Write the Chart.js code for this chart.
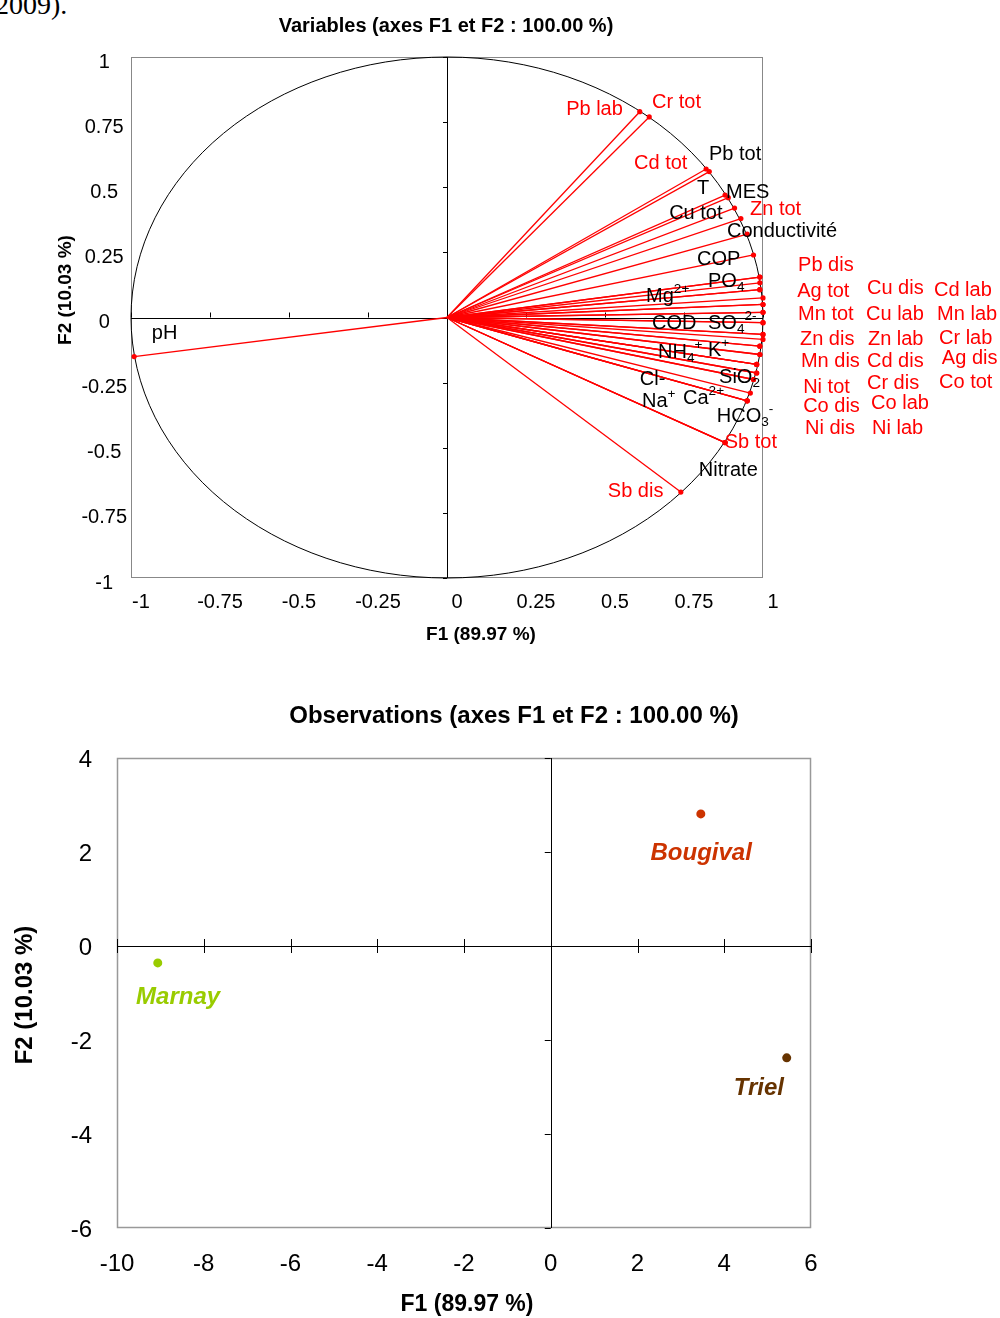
<!DOCTYPE html>
<html lang="fr">
<head>
  <meta charset="UTF-8">
  <title>ACP - Variables et Observations</title>
  <script src="https://cdn.jsdelivr.net/npm/chart.js"></script>
  <style>
    * { margin: 0; padding: 0; box-sizing: border-box; }
    body {
      width: 1000px;
      height: 1318px;
      background: #fff;
      position: relative;
      overflow: hidden;
    }
    .prev-text {
      position: absolute;
      left: -5px;
      top: -9px;
      font-family: 'Liberation Serif', 'Times New Roman', serif;
      font-size: 28px;
      line-height: 1;
      color: #000;
    }
    #varChart { position: absolute; left: 0; top: 0; }
    #obsChart { position: absolute; left: 0; top: 680px; }
  </style>
</head>
<body>
  <div class="prev-text">2009).</div>
  <canvas id="varChart" width="1000" height="660"></canvas>
  <canvas id="obsChart" width="1000" height="638"></canvas>

  <script>
    // --- variables: correlation circle (F1, F2) ---
    const varNames = ['pH', 'Pb lab', 'Cr tot', 'Cd tot', 'Pb tot', 'T', 'MES', 'Cu tot', 'Zn tot', 'Conductivité', 'COP',
      'PO_4', 'Pb dis', 'Mg^2+', 'Ag tot', 'Cu dis', 'Cd lab', 'Mn tot', 'Cu lab', 'Mn lab', 'COD', 'SO_4^2-', 'Zn dis',
      'Zn lab', 'Cr lab', 'Mn dis', 'Cd dis', 'Ag dis', 'NH_4^+', 'Ni tot', 'K^+', 'Cr dis', 'Co tot', 'Co dis', 'Co lab',
      'Ni dis', 'Ni lab', 'SiO_2', 'Cl-', 'Ca^2+', 'HCO_3^-', 'Na^+', 'Sb tot', 'Nitrate', 'Sb dis'];
    const varF1 = [-0.99, 0.61, 0.64, 0.82, 0.83, 0.88, 0.89, 0.91, 0.93, 0.95, 0.97,
      0.99, 0.99, 0.99, 0.99, 0.99, 1.00, 1.00, 1.00, 1.00, 1.00, 1.00, 1.00,
      1.00, 1.00, 1.00, 0.99, 0.99, 0.99, 0.99, 0.98, 0.98, 0.98, 0.98, 0.98,
      0.97, 0.97, 0.96, 0.95, 0.95, 0.95, 0.88, 0.88, 0.88, 0.74];
    const varF2 = [-0.15, 0.79, 0.77, 0.57, 0.56, 0.47, 0.46, 0.42, 0.38, 0.32, 0.24,
      0.155, 0.155, 0.133, 0.107, 0.107, 0.075, 0.05, 0.05, 0.02, 0.02, -0.02, -0.02,
      -0.065, -0.065, -0.084, -0.11, -0.11, -0.142, -0.142, -0.18, -0.18, -0.18, -0.213, -0.213,
      -0.238, -0.238, -0.29, -0.32, -0.32, -0.32, -0.48, -0.48, -0.48, -0.67];

    // where each variable name is written (F1, F2 units)
    const varLabelAt = [[-0.934, -0.061], [0.377, 0.798], [0.649, 0.825], [0.592, 0.591], [0.829, 0.626], [0.791, 0.495],
      [0.883, 0.480], [0.703, 0.399], [0.959, 0.415], [0.886, 0.330], [0.791, 0.223], [0.826, 0.138], [1.111, 0.200],
      [0.630, 0.081], [1.108, 0.100], [1.329, 0.111], [1.541, 0.104], [1.111, 0.012], [1.326, 0.012], [1.551, 0.012],
      [0.649, -0.023], [0.826, -0.023], [1.117, -0.084], [1.332, -0.084], [1.557, -0.081], [1.120, -0.169],
      [1.329, -0.169], [1.566, -0.157], [0.668, -0.134], [1.127, -0.269], [0.826, -0.127], [1.329, -0.253],
      [1.557, -0.250], [1.127, -0.342], [1.342, -0.330], [1.133, -0.426], [1.345, -0.426], [0.861, -0.230],
      [0.610, -0.238], [0.747, -0.311], [0.854, -0.380], [0.617, -0.322], [0.879, -0.480], [0.797, -0.587],
      [0.509, -0.668]];
    const redLabels = new Set(['Pb lab', 'Cr tot', 'Cd tot', 'Zn tot', 'Sb tot', 'Sb dis', 'Pb dis', 'Ag tot', 'Cu dis',
      'Cd lab', 'Mn tot', 'Cu lab', 'Mn lab', 'Zn dis', 'Zn lab', 'Cr lab', 'Mn dis', 'Cd dis', 'Ag dis', 'Ni tot',
      'Cr dis', 'Co tot', 'Co dis', 'Co lab', 'Ni dis', 'Ni lab']);

    // --- observations (F1, F2 scores) ---
    const obsNames = ['Marnay', 'Bougival', 'Triel'];
    const obsF1 = [-9.06, 3.46, 5.44];
    const obsF2 = [-0.36, 2.81, -2.38];
    const obsLabelAt = [[-9.56, -1.085], [2.30, 1.98], [4.22, -3.02]];
    const obsColors = ['#99cc00', '#cc3300', '#663300'];

    const FONT = "'Liberation Sans', Arial, sans-serif";
    Chart.defaults.font.family = FONT;
    Chart.defaults.color = '#000';

    // text with _sub and ^sup parts (PO_4, SO_4^2- ...)
    function drawRich(ctx, text, x, y, size) {
      const parts = text.split(/(?=[_^])/);
      let cx = x;
      parts.forEach(p => {
        let s = size, dy = 0, t = p;
        if (p[0] === '_') { t = p.slice(1); s = size * 0.68; dy = size * 0.3; }
        else if (p[0] === '^') { t = p.slice(1); s = size * 0.68; dy = -size * 0.36; }
        ctx.font = `${s}px ${FONT}`;
        ctx.fillText(t, cx, y + dy);
        cx += ctx.measureText(t).width;
      });
    }

    const pcaDecor = {
      id: 'pcaDecor',
      beforeDatasetsDraw(chart, args, o) {
        const { ctx, chartArea: a, scales: { x, y } } = chart;
        const x0 = x.getPixelForValue(0), y0 = y.getPixelForValue(0);
        ctx.save();
        ctx.strokeStyle = o.frameColor;
        ctx.lineWidth = o.frameWidth;
        ctx.strokeRect(a.left + 0.5, a.top + 0.5, a.width - 1, a.height - 1);

        ctx.strokeStyle = '#000';
        ctx.lineWidth = 1;
        if (o.circle) {
          ctx.beginPath();
          ctx.ellipse(x0, y0, x.getPixelForValue(1) - x0, y0 - y.getPixelForValue(1), 0, 0, Math.PI * 2);
          ctx.stroke();
        }
        ctx.beginPath();
        ctx.moveTo(a.left, Math.round(y0) + 0.5); ctx.lineTo(a.right, Math.round(y0) + 0.5);
        ctx.moveTo(Math.round(x0) + 0.5, a.top); ctx.lineTo(Math.round(x0) + 0.5, a.bottom);
        x.ticks.forEach(t => {
          const px = Math.round(x.getPixelForValue(t.value)) + 0.5;
          ctx.moveTo(px, y0 - o.tickUp); ctx.lineTo(px, y0 + o.tickDown);
        });
        y.ticks.forEach(t => {
          const py = Math.round(y.getPixelForValue(t.value)) + 0.5;
          ctx.moveTo(x0 - o.tickLeft, py); ctx.lineTo(x0 + o.tickRight, py);
        });
        ctx.stroke();
        ctx.restore();
      },
      afterDraw(chart, args, o) {
        const { ctx, scales: { x, y } } = chart;
        ctx.save();
        ctx.textBaseline = 'middle';
        ctx.fillStyle = '#000';
        (o.texts || []).forEach(t => {
          ctx.save();
          ctx.font = t.font;
          ctx.textAlign = 'center';
          ctx.translate(t.x, t.y);
          if (t.rotate) ctx.rotate(-Math.PI / 2);
          ctx.fillText(t.text, 0, 0);
          ctx.restore();
        });
        ctx.textAlign = 'left';
        const L = o.labels;
        L.names.forEach((n, i) => {
          ctx.fillStyle = L.color(n, i);
          const px = x.getPixelForValue(L.at[i][0]);
          const py = y.getPixelForValue(L.at[i][1]);
          if (L.font) {
            ctx.font = L.font;
            ctx.fillText(n, px, py);
          } else {
            drawRich(ctx, n, px, py, L.size);
          }
        });
        ctx.restore();
      }
    };

    const varDatasets = varNames.map((n, i) => ({
      label: n,
      data: [{ x: 0, y: 0 }, { x: varF1[i], y: varF2[i] }],
      showLine: true,
      borderColor: '#ff0000',
      borderWidth: 1.3,
      pointRadius: [0, 2.6],
      pointBackgroundColor: '#ff0000',
      pointBorderWidth: 0,
      clip: false
    }));

    const plainTick = v => String(v);

    new Chart(document.getElementById('varChart'), {
      type: 'scatter',
      data: { datasets: varDatasets },
      plugins: [pcaDecor],
      options: {
        responsive: false,
        animation: false,
        layout: { autoPadding: false, padding: { left: 0, top: 57, right: 237, bottom: 0 } },
        scales: {
          x: {
            min: -1, max: 1,
            afterFit: s => { s.height = 82; },
            ticks: { stepSize: 0.25, padding: 12, labelOffset: 10, font: { size: 20 }, callback: plainTick },
            grid: { display: false, drawTicks: false },
            border: { display: false }
          },
          y: {
            min: -1, max: 1,
            afterFit: s => { s.width = 131; },
            ticks: { stepSize: 0.25, padding: 4, labelOffset: 5, crossAlign: 'center', font: { size: 20 }, callback: plainTick },
            grid: { display: false, drawTicks: false },
            border: { display: false }
          }
        },
        plugins: {
          legend: { display: false },
          tooltip: { enabled: false },
          pcaDecor: {
            frameColor: '#888', frameWidth: 1, circle: true,
            tickUp: 5, tickDown: 0, tickLeft: 4, tickRight: 0,
            texts: [
              { text: 'Variables (axes F1 et F2 : 100.00 %)', x: 446, y: 26, font: `bold 20px ${FONT}` },
              { text: 'F1 (89.97 %)', x: 481, y: 635, font: `bold 19px ${FONT}` },
              { text: 'F2 (10.03 %)', x: 66, y: 290, font: `bold 19px ${FONT}`, rotate: true }
            ],
            labels: {
              names: varNames, at: varLabelAt, size: 20,
              color: n => redLabels.has(n) ? '#ff0000' : '#000'
            }
          }
        }
      }
    });

    new Chart(document.getElementById('obsChart'), {
      type: 'scatter',
      data: {
        datasets: [{
          label: 'Observations',
          data: obsNames.map((n, i) => ({ x: obsF1[i], y: obsF2[i] })),
          pointBackgroundColor: obsColors,
          pointBorderWidth: 0,
          pointRadius: 4.5,
          clip: false
        }]
      },
      plugins: [pcaDecor],
      options: {
        responsive: false,
        animation: false,
        layout: { autoPadding: false, padding: { left: 0, top: 78, right: 189, bottom: 0 } },
        scales: {
          x: {
            min: -10, max: 6,
            afterFit: s => { s.height = 90; },
            ticks: { stepSize: 2, padding: 22, font: { size: 24 }, callback: plainTick },
            grid: { display: false, drawTicks: false },
            border: { display: false }
          },
          y: {
            min: -6, max: 4,
            afterFit: s => { s.width = 117; },
            ticks: { stepSize: 2, padding: 25, labelOffset: 2, font: { size: 24 }, callback: plainTick },
            grid: { display: false, drawTicks: false },
            border: { display: false }
          }
        },
        plugins: {
          legend: { display: false },
          tooltip: { enabled: false },
          pcaDecor: {
            frameColor: '#999', frameWidth: 1.5, circle: false,
            tickUp: 7, tickDown: 7, tickLeft: 6, tickRight: 0,
            texts: [
              { text: 'Observations (axes F1 et F2 : 100.00 %)', x: 514, y: 36, font: `bold 24px ${FONT}` },
              { text: 'F1 (89.97 %)', x: 467, y: 625, font: `bold 23px ${FONT}` },
              { text: 'F2 (10.03 %)', x: 25, y: 315, font: `bold 24px ${FONT}`, rotate: true }
            ],
            labels: {
              names: obsNames, at: obsLabelAt, font: `italic bold 24px ${FONT}`,
              color: (n, i) => obsColors[i]
            }
          }
        }
      }
    });
  </script>
</body>
</html>
